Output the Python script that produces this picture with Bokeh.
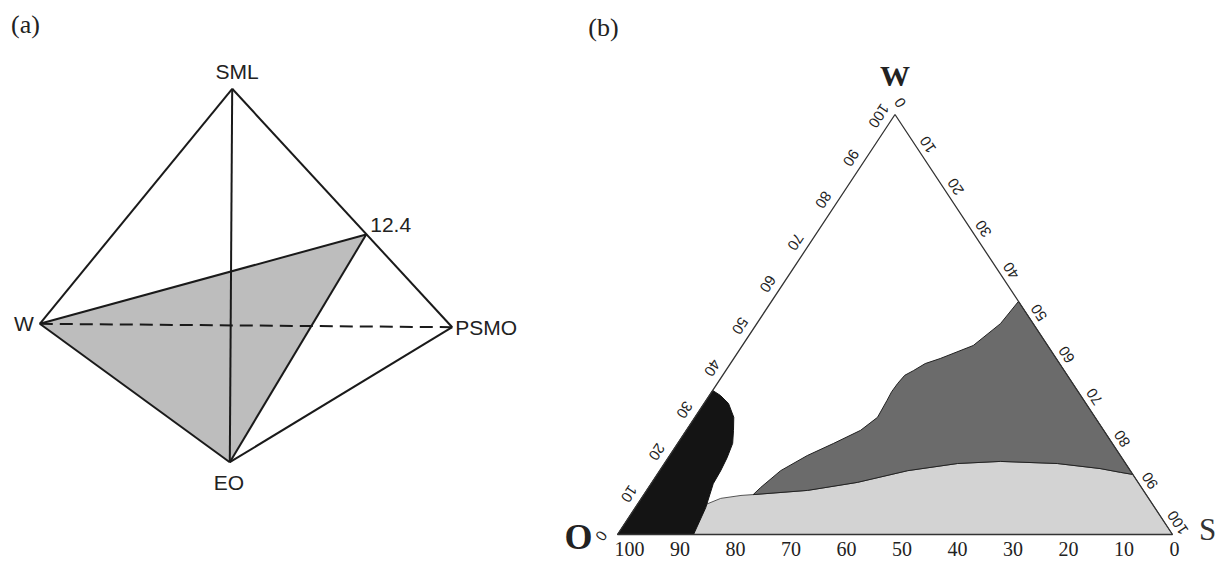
import math
from bokeh.plotting import figure
from bokeh.layouts import row
from bokeh.models import Range1d
from bokeh.core.properties import value
from bokeh.embed import file_html
from bokeh.resources import INLINE

# ---------------- Data ----------------
# Panel (a): tetrahedron vertices (drawing units)
tetra_names = ["SML", "W", "PSMO", "EO", "12.4"]
tetra_x = [231.7, 39.3, 451.7, 229.3, 365.7]
tetra_y = [88.3, 323.3, 326.7, 461.7, 234.0]

# Panel (b): ternary axis ticks (percent)
tick_values = [0, 10, 20, 30, 40, 50, 60, 70, 80, 90, 100]
left_tick_labels = [str(v) for v in tick_values]          # W %, O -> W
right_tick_labels = [str(v) for v in tick_values]         # S %, W -> S
bottom_tick_labels = [str(v) for v in tick_values]        # O %, S -> O

# Region boundaries in ternary composition (W %, S %); O = 100 - W - S
black_W = [0, 34.3, 33.1, 31.2, 27.9, 24.8, 21.7, 18.3, 15.2, 12.1, 6.4, 0]
black_S = [0, 0, 2.0, 4.4, 7.0, 8.5, 9.9, 10.6, 11.0, 11.2, 12.7, 13.7]

dark_W = [55.5, 50.2, 45.0, 41.9, 40.7, 39.0, 37.9, 36.0, 34.0, 31.9, 27.9, 24.8, 21.7, 18.8,
          15.2, 11.2, 9.5,
          10.5, 12.4, 15.2, 16.9, 17.4, 16.9, 15.7, 14.8, 14.3]
dark_S = [44.5, 43.9, 41.6, 37.2, 35.1, 33.8, 32.8, 32.5, 32.4, 32.6, 32.9, 31.4, 28.1, 24.8,
          21.8, 20.2, 19.7,
          29.0, 37.0, 44.7, 52.8, 60.3, 70.8, 79.1, 83.2, 85.7]

light_W = [0, 4.0, 6.9, 8.6, 9.3, 9.5, 10.5, 12.4, 15.2, 16.9, 17.4, 16.9, 15.7, 14.8, 14.3, 0]
light_S = [13.7, 12.1, 12.0, 14.3, 17.6, 19.7, 29.0, 37.0, 44.7, 52.8, 60.3, 70.8, 79.1, 83.2, 85.7, 100]

corner_W = [0, 0, 100, 0]
corner_S = [0, 100, 0, 0]

# ---------------- Panel (a) ----------------
W1, H = 540, 561
p1 = figure(width=W1, height=H, x_range=Range1d(0, W1), y_range=Range1d(H, 0),
            output_backend="svg", toolbar_location=None, min_border=0,
            x_axis_type=None, y_axis_type=None)
p1.grid.visible = False
p1.outline_line_color = None
p1.background_fill_color = "white"
p1.border_fill_color = "white"

V = {n: (x, y) for n, x, y in zip(tetra_names, tetra_x, tetra_y)}

def pts(*names):
    return [V[n][0] for n in names], [V[n][1] for n in names]

xs, ys = pts("W", "12.4", "EO")
p1.patch(xs, ys, fill_color="#bdbdbd", line_color=None)

xs, ys = pts("W", "PSMO")
p1.line(xs, ys, line_color="#1a1a1a", line_width=2, line_dash="13 7")

for a, b in [("W", "SML"), ("SML", "PSMO"), ("PSMO", "EO"), ("EO", "W"),
             ("SML", "EO"), ("W", "12.4"), ("12.4", "EO")]:
    xs, ys = pts(a, b)
    p1.line(xs, ys, line_color="#1a1a1a", line_width=2)

lab_font = value("Liberation Sans")
label_spec = {
    "SML": (5, -17, "center"),
    "W": (-6, 0, "right"),
    "PSMO": (3, 0, "left"),
    "EO": (-1, 20, "center"),
    "12.4": (4, -10, "left"),
}
for n, (dx, dy, al) in label_spec.items():
    p1.text(x=[V[n][0] + dx], y=[V[n][1] + dy], text=[n], text_font=lab_font,
            text_font_size="21px", text_color="#222222", text_align=al,
            text_baseline="middle")

p1.text(x=[25], y=[24], text=["(a)"], text_font=value("Liberation Serif"),
        text_font_size="26px", text_color="#222222", text_align="center",
        text_baseline="middle")

# ---------------- Panel (b) ----------------
W2 = 1216 - W1
PX, PY = 5.55, 4.2     # pixels per percent unit (x, y)
X0, Y0 = 77, 534       # pixel position of the O corner inside panel (b)

p2 = figure(width=W2, height=H,
            x_range=Range1d(-X0 / PX, (W2 - X0) / PX),
            y_range=Range1d(-(H - Y0) / PY, Y0 / PY),
            output_backend="svg", toolbar_location=None, min_border=0,
            x_axis_type=None, y_axis_type=None)
p2.grid.visible = False
p2.outline_line_color = None
p2.background_fill_color = "white"
p2.border_fill_color = "white"

def tern(Wv, Sv):
    return [s + w / 2.0 for w, s in zip(Wv, Sv)], list(Wv)

# regions
xs, ys = tern(light_W, light_S)
p2.patch(xs, ys, fill_color="#d3d3d3", line_color="#555555", line_width=1)
xs, ys = tern(dark_W, dark_S)
p2.patch(xs, ys, fill_color="#6b6b6b", line_color="#222222", line_width=1)
xs, ys = tern(black_W, black_S)
p2.patch(xs, ys, fill_color="#141414", line_color="#141414", line_width=1)

# triangle frame
xs, ys = tern(corner_W, corner_S)
p2.line(xs, ys, line_color="#333333", line_width=1.3)

# screen-space directions of the edges
def unit(dx, dy):
    L = math.hypot(dx, dy)
    return dx / L, dy / L

dL = unit(50 * PX, 100 * PY)        # O -> W (screen, y up)
nL = (-dL[1], dL[0])                 # outward (left/up)
dR = unit(50 * PX, -100 * PY)       # W -> S
nR = (abs(dR[1]), abs(dR[0]))        # outward (right/up)

angL = math.atan2(dL[1], dL[0]) + math.pi
angR = math.atan2(-dR[1], -dR[0])

tick_font = value("Liberation Sans")

# left edge (W %)
offL = (13 * nL[0] - 10 * dL[0], 13 * nL[1] - 10 * dL[1])
lx, ly = tern(tick_values, [0] * len(tick_values))
p2.text(x=[x + offL[0] / PX for x in lx], y=[y + offL[1] / PY for y in ly],
        text=left_tick_labels, angle=angL, text_font=tick_font, text_font_size="15px",
        text_color="#222222", text_align="center", text_baseline="middle")

# right edge (S %)
offR = (11 * nR[0] - 7 * dR[0], 11 * nR[1] - 7 * dR[1])
rx, ry = tern([100 - v for v in tick_values], tick_values)
p2.text(x=[x + offR[0] / PX for x in rx], y=[y + offR[1] / PY for y in ry],
        text=right_tick_labels, angle=angR, text_font=tick_font, text_font_size="15px",
        text_color="#222222", text_align="center", text_baseline="middle")

# bottom edge (O %)
bx, by = tern([0] * len(tick_values), [100 - v for v in tick_values])
p2.text(x=[x - 3 / PX for x in bx], y=[-14 / PY] * len(bx), text=bottom_tick_labels,
        text_font=value("Liberation Sans Narrow"), text_font_size="20px",
        text_color="#222222", text_align="left", text_baseline="middle")

# corner labels
p2.text(x=[50], y=[100 + 39 / PY], text=["W"], text_font=value("Liberation Serif"),
        text_font_style="bold", text_font_size="30px", text_color="#222222",
        text_align="center", text_baseline="middle")
p2.text(x=[-39 / PX], y=[-2 / PY], text=["O"], text_font=value("Liberation Serif"),
        text_font_style="bold", text_font_size="36px", text_color="#222222",
        text_align="center", text_baseline="middle")
p2.text(x=[100 + 35 / PX], y=[5 / PY], text=["S"], text_font=value("Liberation Sans Narrow"),
        text_font_size="31px", text_color="#333333",
        text_align="center", text_baseline="middle")

p2.text(x=[(63 - X0) / PX], y=[(Y0 - 27) / PY], text=["(b)"],
        text_font=value("Liberation Serif"), text_font_size="26px", text_color="#222222",
        text_align="center", text_baseline="middle")

layout = row(p1, p2)
open("out.html", "w").write(file_html(layout, INLINE))
